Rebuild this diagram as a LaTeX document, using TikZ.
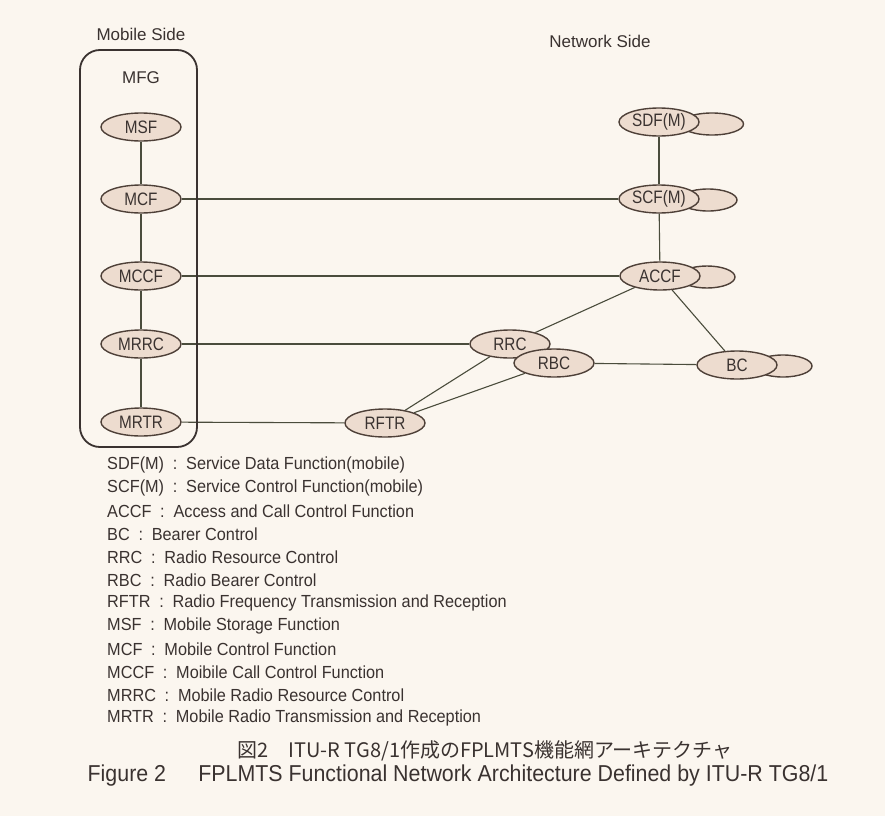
\documentclass[tikz,border=0pt]{standalone}
\usepackage{fontspec}
\usepackage{graphicx}
\setmainfont{Liberation Sans}
\newfontfamily\cond[FakeStretch=0.85]{Liberation Sans}
\newfontfamily\legf[FakeStretch=0.93]{Liberation Sans}
\newfontfamily\capf[FakeStretch=0.93]{Liberation Sans}
\newfontfamily\cjk{Noto Sans CJK JP}
\usetikzlibrary{backgrounds,shapes.geometric}
\definecolor{bg}{HTML}{FBF6EF}
\definecolor{efill}{HTML}{EDDCCF}
\definecolor{edraw}{HTML}{4E4038}
\definecolor{ink}{HTML}{3A3230}
\definecolor{wire}{HTML}{4A4C3C}
\tikzset{
  fn/.style={ellipse, draw=edraw, fill=efill, line width=1.4pt, minimum width=80pt, minimum height=28pt, inner sep=0pt, font=\cond\fontsize{18}{18}\selectfont, text=ink},
  aux/.style={ellipse, draw=edraw, fill=efill, line width=1.4pt, minimum width=#1, minimum height=22pt, inner sep=0pt},
  wire/.style={draw=wire, line width=1.1pt},
  lbl/.style={font=\fontsize{17}{17}\selectfont, text=ink},
  leg/.style={anchor=west, font=\legf\fontsize{17.5}{17.5}\selectfont, text=ink, inner sep=0pt},
}
\newcommand{\cl}{\enspace:\enspace}
\begin{document}
\begin{tikzpicture}[x=1pt,y=-1pt]
\begin{scope}[on background layer]
\fill[bg] (0,0) rectangle (885,816);
\end{scope}
\useasboundingbox (0,0) rectangle (885,816);
% mobile side
\node[lbl] (mside) at (141,34) {Mobile Side};
\draw[draw=ink, line width=1.8pt, rounded corners=20pt] (80,50) rectangle (197,447);
\node[lbl] (mfg) at (141,78) {MFG};
\node[fn] (msf) at (141,127) {MSF};
\node[fn] (mcf) at (141,199) {MCF};
\node[fn] (mccf) at (141,276) {MCCF};
\node[fn] (mrrc) at (141,344) {MRRC};
\node[fn] (mrtr) at (141,422) {MRTR};
% network side
\node[lbl] (nside) at (600,41) {Network Side};
\node[aux=63pt] (sdfx) at (712,124) {};
\node[fn] (sdf) at (659,122) {SDF(M)};
\node[aux=58pt] (scfx) at (708,200) {};
\node[fn] (scf) at (659,199) {SCF(M)};
\node[aux=56pt] (accfx) at (707,277) {};
\node[fn] (accf) at (660,276) {ACCF};
\node[fn] (rrc) at (510,344) {RRC};
\node[fn] (rbc) at (554,363) {RBC};
\node[aux=58pt] (bcx) at (783,366) {};
\node[fn] (bc) at (737,365) {BC};
\node[fn] (rftr) at (385,423) {RFTR};
\begin{scope}[on background layer]
\draw[wire] (msf) -- (mcf);
\draw[wire] (mcf) -- (mccf);
\draw[wire] (mccf) -- (mrrc);
\draw[wire] (mrrc) -- (mrtr);
\draw[wire] (sdf) -- (scf);
\draw[wire] (scf) -- (accf);
\draw[wire] (mcf) -- (scf);
\draw[wire] (mccf) -- (accf);
\draw[wire] (mrrc) -- (rrc);
\draw[wire] (mrtr) -- (rftr);
\draw[wire] (accf) -- (rrc);
\draw[wire] (accf) -- (bc);
\draw[wire] (rrc) -- (rftr);
\draw[wire] (rbc) -- (rftr);
\draw[wire] (rbc) -- (bc);
\end{scope}
% legend
\node[leg] (l1) at (107,465) {SDF(M)\cl Service Data Function(mobile)};
\node[leg] (l2) at (107,488) {SCF(M)\cl Service Control Function(mobile)};
\node[leg] (l3) at (107,511) {ACCF\cl Access and Call Control Function};
\node[leg] (l4) at (107,534) {BC\cl Bearer Control};
\node[leg] (l5) at (107,557) {RRC\cl Radio Resource Control};
\node[leg] (l6) at (107,580) {RBC\cl Radio Bearer Control};
\node[leg] (l7) at (107,603) {RFTR\cl Radio Frequency Transmission and Reception};
\node[leg] (l8) at (107,626) {MSF\cl Mobile Storage Function};
\node[leg] (l9) at (107,649) {MCF\cl Mobile Control Function};
\node[leg] (l10) at (107,672) {MCCF\cl Moibile Call Control Function};
\node[leg] (l11) at (107,695) {MRRC\cl Mobile Radio Resource Control};
\node[leg] (l12) at (107,718) {MRTR\cl Mobile Radio Transmission and Reception};
% captions
\node[text=ink, inner sep=0pt] (cap1) at (485,751) {\cjk\fontsize{20}{20}\selectfont 図2\hspace{1em}ITU-R TG8/1作成のFPLMTS機能網アーキテクチャ};
\node[text=ink, inner sep=0pt] (cap2) at (458,776) {\capf\fontsize{23}{23}\selectfont Figure 2\hspace{1.4em}FPLMTS Functional Network Architecture Defined by ITU-R TG8/1};
\end{tikzpicture}
\end{document}
